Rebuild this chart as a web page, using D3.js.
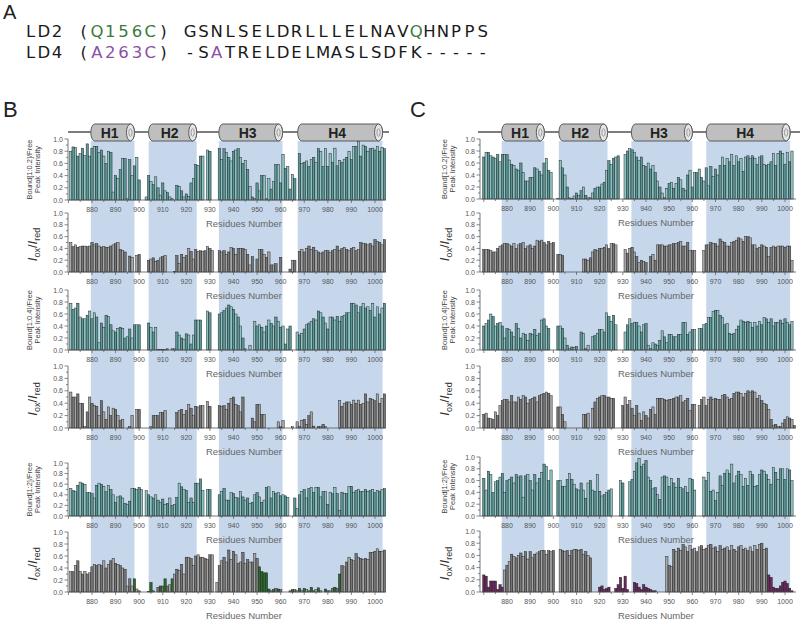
<!DOCTYPE html>
<html><head><meta charset="utf-8">
<script src="https://cdn.jsdelivr.net/npm/d3@7"></script>
<style>body{margin:0;background:#fff}svg{display:block;font-family:"Liberation Sans",Arial,sans-serif}</style>
</head><body>
<svg id="c" width="800" height="621"></svg>
<script>
// ---------------- DATA ----------------
const firstResidue = 870; // values below are residues 870..1004
const xTicks = [880,890,900,910,920,930,940,950,960,970,980,990,1000];
const yTicks = [0,0.2,0.4,0.6,0.8,1.0];
const helixNames = ['H1','H2','H3','H4'];
const helicesB = [[879.5,898],[904,924.4],[933.8,960.8],[967.2,1003.2]];
const helicesC = [[877.7,896.1],[902.4,923.4],[933.7,960],[966,1002.2]];
const seqRow1 = "LD2 (Q156C) GSNLSELDRLLLELNAVQHNPPS";
const seqRow2 = "LD4 (A263C) -SATRELDELMASLSDFK-----";
const seqGreen1 = [5,6,7,8,9,29];
const seqPurple2 = [5,6,7,8,9,14];

// Panel B
const bBound02 = [
null,0.80,0.87,0.86,0.72,0.76,0.85,0.73,0.92,0.72,
0.85,0.88,0.88,0.78,0.82,0.72,0.60,0.80,0.78,0.13,
0.40,0.35,0.50,0.68,0.68,0.02,0.66,0.40,0.56,0.70,
0.33,null,null,0.05,0.40,0.30,0.25,0.38,0.20,0.08,
0.28,0.15,0.12,0.05,0.02,null,0.24,0.22,0.15,0.05,
0.10,0.06,0.28,0.35,0.58,0.57,0.72,0.72,null,0.82,
0.80,null,null,null,0.85,0.66,0.84,0.78,0.70,0.64,
0.80,0.82,0.84,0.70,0.60,0.65,0.50,0.22,0.05,0.02,
0.28,0.15,0.40,0.40,0.02,0.35,0.18,0.30,0.58,0.58,
0.28,0.75,0.52,0.55,0.18,0.42,0.35,null,0.76,0.60,
0.62,0.64,0.55,0.66,0.70,0.62,0.84,0.80,0.55,0.84,
0.55,0.76,0.62,0.85,0.56,0.65,0.62,0.66,0.70,0.80,
0.66,0.88,0.88,0.96,0.72,0.90,0.88,0.80,0.84,0.85,
0.82,0.88,0.80,0.86,0.84];
const bOx1 = [
null,0.50,0.43,0.46,0.42,0.43,0.44,0.44,0.43,0.44,
0.50,0.46,0.48,0.44,0.42,0.43,0.42,0.42,0.44,0.46,
0.48,0.50,0.38,0.36,0.34,null,0.27,0.25,null,0.28,
0.30,null,null,null,0.20,0.22,0.24,0.18,0.20,0.24,
0.26,0.28,null,null,null,0.01,0.28,0.15,0.30,0.25,
0.28,0.40,0.35,0.22,0.38,0.35,0.36,0.35,0.36,0.43,
0.40,0.36,null,null,0.36,0.34,0.36,0.30,0.34,0.42,
0.40,0.30,0.40,0.40,0.40,0.38,0.30,0.12,0.26,null,
0.22,0.38,0.38,0.30,0.25,0.34,0.12,0.12,0.14,null,
0.25,null,null,null,0.05,0.20,0.20,null,0.35,0.38,
0.34,0.40,0.44,0.38,0.42,0.36,0.34,0.32,0.34,0.36,
0.36,0.33,0.36,0.38,0.44,0.36,0.40,0.42,0.38,0.36,
0.40,0.42,0.36,0.38,0.50,0.48,0.48,0.46,0.48,0.44,
0.55,0.52,0.50,0.46,0.55];
const bBound04 = [
null,0.78,0.68,0.70,0.78,0.55,0.52,0.52,0.58,0.65,
0.52,0.62,0.55,0.12,0.45,0.38,0.58,0.56,0.42,0.32,
0.30,0.36,0.38,0.36,0.20,0.22,0.35,0.20,0.42,0.42,
0.42,null,null,null,0.45,0.38,0.30,0.38,0.01,0.01,
0.01,0.01,0.02,null,0.02,0.02,0.30,0.25,0.20,0.18,
0.27,0.25,0.10,0.25,0.50,0.50,0.50,null,null,0.65,
0.62,null,null,null,0.60,0.62,0.66,0.70,0.75,0.72,
0.68,0.60,0.55,0.40,0.20,0.02,null,0.08,null,0.48,
0.40,0.42,0.38,0.30,0.40,0.50,0.44,0.40,0.55,0.48,
0.38,0.40,0.10,0.35,0.40,null,null,0.30,0.25,0.28,
0.35,0.42,0.45,0.48,0.52,0.50,0.65,0.62,0.55,0.45,
0.35,0.55,0.55,0.50,0.56,0.48,0.56,0.58,0.62,0.62,
0.78,0.78,0.75,0.62,0.72,0.78,0.70,0.72,0.66,0.78,
0.55,0.72,0.60,0.70,0.78];
const bOx2 = [
null,0.58,0.50,0.50,0.55,0.40,0.40,0.02,0.26,0.50,
0.40,0.36,0.35,0.20,0.44,0.26,0.14,0.34,0.20,0.32,
0.30,0.20,0.12,0.14,null,null,0.02,0.20,null,0.30,
0.30,null,null,null,null,0.02,0.20,0.20,0.20,0.25,
0.25,0.28,null,null,null,null,0.25,0.28,0.30,0.22,
0.28,0.38,0.32,0.20,0.35,0.34,0.36,0.36,null,0.43,
0.35,null,null,null,0.36,0.35,0.36,0.30,0.40,0.48,
0.50,0.38,0.36,0.26,0.50,null,null,null,0.16,0.10,
0.38,0.38,0.22,0.22,null,null,null,null,null,0.10,
0.02,0.12,null,null,null,0.02,null,0.10,0.02,0.12,
0.14,0.06,0.20,0.26,0.03,null,0.02,0.02,0.06,0.02,
null,null,null,null,null,0.44,0.35,0.40,0.42,0.42,
0.38,0.45,0.40,0.45,0.38,0.40,0.55,0.42,0.48,0.46,
0.44,0.55,0.40,0.48,0.55];
const bBound2 = [
null,0.52,0.48,0.46,0.58,0.64,0.62,0.60,0.44,0.44,
0.42,0.34,0.58,0.62,0.60,0.56,0.46,0.58,0.50,0.40,
0.26,0.36,0.38,0.34,0.24,0.22,0.28,0.52,0.52,0.50,
0.54,0.50,null,0.48,0.40,0.36,0.34,0.40,0.30,0.26,
0.32,0.22,0.24,0.34,0.20,0.22,0.35,0.62,0.55,0.50,
0.48,0.25,0.34,0.26,0.62,0.62,0.70,0.48,null,0.50,
0.50,null,null,null,0.40,0.46,0.52,0.30,0.30,0.44,
0.42,0.35,0.34,0.46,0.36,0.30,0.34,0.24,0.26,0.40,
0.44,0.36,0.26,0.30,0.54,0.55,0.34,0.46,0.42,0.44,
0.38,0.40,0.38,0.35,null,null,0.34,0.14,0.40,0.46,
0.50,0.34,0.52,0.54,0.44,0.54,0.54,0.36,0.46,0.46,
0.22,0.45,0.42,0.54,0.42,0.10,0.45,0.42,0.42,0.56,
0.56,0.44,0.48,0.50,0.46,0.46,0.50,0.46,0.48,0.50,
0.44,0.48,0.46,0.50,0.52];
const bOx3 = [
null,0.34,0.34,0.44,0.52,0.34,0.30,0.34,0.30,0.32,
0.42,0.46,0.44,0.46,0.44,0.52,0.40,0.46,0.52,0.56,
0.48,0.46,0.44,0.40,0.38,0.10,0.22,0.10,0.22,0.05,
0.02,null,null,null,0.01,0.16,0.02,null,0.08,0.10,
0.10,0.22,0.10,0.12,0.22,0.30,0.38,0.36,0.46,0.30,
0.58,0.58,0.56,0.44,0.60,0.62,0.58,0.58,0.56,0.54,
0.62,0.62,null,0.16,0.44,0.52,0.58,0.50,0.70,0.54,
0.68,0.62,0.48,0.50,0.66,0.48,0.54,0.50,0.50,0.64,
0.56,0.42,0.34,0.32,0.32,0.05,0.02,0.04,0.06,0.05,
0.04,null,null,null,0.02,0.04,0.04,0.02,0.06,0.02,
0.06,0.04,0.02,0.08,0.02,0.04,0.07,0.02,null,0.05,
0.02,0.02,0.06,0.08,0.06,0.30,0.44,0.42,0.50,0.58,
0.54,0.52,0.64,0.58,0.56,0.54,0.56,0.54,0.66,0.66,
0.68,0.72,0.68,0.68,0.70];
const greenB = [898,905,909,911,914,951,952,953,954,955,957,959,965,968,970,973,976,979,983,985];

// Panel C
const cBound02 = [
0.70,0.78,0.78,0.72,0.70,0.68,0.74,0.62,0.74,0.74,
0.74,0.65,0.58,0.56,0.50,0.48,0.60,0.44,0.30,0.30,
0.36,0.36,0.52,0.50,0.46,0.40,0.60,0.68,0.48,0.44,
null,null,0.01,0.64,0.52,0.40,0.20,0.02,0.01,0.05,
0.10,0.06,0.14,0.20,0.06,0.02,0.02,0.10,0.18,0.20,
0.20,0.25,0.28,0.48,0.64,0.58,0.68,0.70,0.72,null,
null,0.74,0.80,0.84,0.82,0.78,0.70,0.64,0.70,0.56,
0.54,0.60,0.50,0.56,0.44,0.30,0.20,0.10,0.02,0.18,
0.26,0.28,0.18,0.26,0.36,0.32,0.18,0.14,0.40,0.48,
0.20,0.44,0.44,0.50,0.36,0.30,0.52,0.22,0.54,0.38,
0.50,0.40,0.56,0.70,0.56,0.68,0.62,0.74,0.56,0.72,
0.62,0.68,0.46,0.70,0.72,0.68,0.72,0.68,0.58,0.70,
0.72,0.58,0.56,0.58,0.62,0.76,0.56,0.76,0.80,0.76,
0.58,0.78,0.62,0.80,null];
const cOx1 = [
0.38,0.38,0.38,0.36,0.34,0.34,0.40,0.44,0.46,0.48,
0.48,0.46,0.44,0.48,0.40,0.46,0.48,0.50,0.40,0.44,
0.46,0.40,0.44,0.54,0.52,0.54,0.50,0.46,0.52,0.48,
0.50,null,0.30,0.30,0.28,null,null,null,null,null,
null,null,null,0.22,0.22,0.20,0.24,0.34,0.38,0.36,
0.40,0.40,0.42,0.46,0.40,0.48,0.48,0.46,null,null,
null,0.38,0.32,0.40,0.42,0.34,0.26,0.16,0.20,0.18,
0.16,null,0.26,0.30,0.20,0.46,0.46,0.46,0.44,0.44,
0.46,0.46,0.48,0.48,0.50,0.52,0.44,0.44,0.50,0.36,
0.36,0.36,null,null,null,0.36,0.46,0.46,0.50,0.48,
0.48,0.44,0.56,0.52,0.50,0.44,0.44,0.50,0.52,0.54,
0.58,0.56,0.52,0.60,0.60,0.58,0.46,0.46,0.40,0.42,
0.46,0.44,0.42,0.26,0.42,0.44,0.42,0.44,0.44,0.44,
0.42,0.44,0.44,0.20,null];
const cBound04 = [
0.40,0.44,0.50,0.60,0.56,0.40,0.44,0.46,0.40,0.20,
0.36,0.34,0.30,0.22,0.44,0.36,0.20,0.28,0.26,0.16,
0.28,0.26,0.34,0.24,0.28,0.50,0.52,0.40,0.36,null,
null,null,0.40,0.40,0.36,0.20,0.08,0.02,0.05,0.04,
0.06,null,0.30,0.28,0.02,0.08,null,0.22,0.24,0.28,
0.34,0.34,0.30,0.62,0.56,0.48,0.58,0.42,null,null,
null,0.30,0.42,0.52,0.44,0.46,0.46,0.40,0.30,0.42,
0.44,0.08,0.02,0.12,0.10,0.08,0.16,0.32,0.22,0.12,
0.26,0.26,0.22,0.22,0.26,0.26,0.46,0.46,0.26,0.30,
0.34,0.34,null,0.36,0.36,0.42,0.44,0.54,0.54,0.64,
0.66,0.66,0.58,0.54,0.42,0.44,0.28,0.26,0.28,0.34,
0.40,0.50,0.48,0.46,0.48,0.46,0.38,0.46,0.40,0.48,
0.42,0.54,0.52,0.46,0.52,0.40,0.46,0.46,0.50,0.44,
0.52,0.46,0.42,0.48,null];
const cOx2 = [
0.22,0.24,0.16,0.15,0.14,0.26,0.20,0.36,0.44,0.46,
0.46,0.42,0.52,0.42,0.42,0.50,0.46,0.52,0.50,0.40,
0.46,0.48,0.50,0.42,0.52,0.54,0.56,0.58,0.56,0.52,
null,null,0.34,0.34,0.22,0.10,null,null,null,null,
null,null,null,0.22,0.22,0.24,null,0.32,0.42,0.48,
0.50,0.52,0.52,0.50,0.50,0.48,0.48,null,null,null,
0.36,0.50,0.38,0.44,0.32,0.20,0.36,0.24,0.12,0.26,
0.20,0.16,0.30,0.34,0.22,0.48,0.48,0.48,0.46,0.44,
0.46,0.46,0.48,0.50,0.50,0.52,0.42,0.44,0.48,0.28,
0.38,0.38,null,0.36,0.46,0.50,0.36,0.46,0.50,0.46,
0.48,0.46,0.46,0.52,0.54,0.50,0.46,0.48,0.56,0.58,
0.58,0.56,0.50,0.56,0.60,0.58,0.60,0.58,0.48,0.52,
0.44,0.40,0.38,0.30,0.14,0.04,0.06,0.02,0.02,0.08,
0.14,0.18,0.16,0.14,0.04];
const cBound2 = [
0.64,0.44,0.76,0.70,0.40,0.58,0.60,0.66,0.72,0.40,
0.60,0.62,0.66,0.56,0.70,0.66,0.68,0.32,0.68,0.70,
0.60,0.44,0.70,0.56,0.64,0.74,0.88,0.84,0.60,0.78,
null,null,0.60,0.60,0.50,0.50,0.62,0.72,0.62,0.54,
0.46,0.44,0.56,0.44,0.30,0.56,0.60,0.44,0.42,0.70,
0.42,0.34,0.36,0.40,0.44,0.46,null,null,null,0.60,
0.56,null,null,0.58,0.62,0.76,0.90,0.98,0.84,0.88,
0.94,0.66,0.60,0.46,0.48,0.36,0.28,0.66,0.68,0.66,
0.50,0.64,0.56,0.48,0.64,0.48,0.46,0.50,0.40,0.64,
0.62,0.44,null,null,null,0.66,0.60,0.74,0.42,0.44,
0.26,0.40,0.68,0.52,0.72,0.78,0.72,0.88,0.56,0.68,
0.76,0.70,0.50,0.64,0.52,0.76,0.70,0.50,0.52,0.70,
0.78,0.76,0.70,0.62,0.54,0.82,0.74,0.62,0.80,0.80,
0.62,0.80,0.78,0.60,null];
const cOx3 = [
0.28,0.26,0.08,0.18,0.18,0.18,0.04,0.12,0.08,0.36,
0.44,0.50,0.62,0.58,0.56,0.60,0.64,0.58,0.66,0.54,
0.66,0.56,0.62,0.64,0.66,0.68,0.68,0.62,0.68,0.66,
0.68,null,null,0.70,0.68,0.66,0.68,0.60,0.68,0.70,
0.70,0.68,0.70,0.62,0.66,0.60,0.56,null,null,null,
0.08,0.10,0.04,0.06,0.08,null,null,0.06,0.12,0.24,
0.06,0.26,0.04,null,null,0.16,0.14,0.08,0.04,0.12,
0.08,0.06,0.04,0.02,0.02,null,null,null,null,0.58,
0.44,0.42,0.70,0.66,0.72,0.68,0.78,0.74,0.66,0.76,
0.70,0.72,0.66,0.74,0.76,0.70,0.72,0.76,0.78,0.72,
0.74,0.66,0.76,0.70,0.72,0.74,0.68,0.76,0.70,0.66,
0.74,0.76,0.70,0.72,0.68,0.74,0.66,0.76,0.70,0.78,
0.80,0.70,0.72,0.28,0.24,0.08,0.06,0.06,0.10,0.16,
0.18,0.14,0.06,0.02,null];
const purpleC = [870,871,872,873,874,875,876,877,878,
  920,921,922,923,924,927,928,929,930,931,932,935,936,937,938,939,940,941,942,943,944,
  993,994,995,996,997,998,999,1000,1001,1002,1003];

// ---------------- DRAW ----------------
const svg = d3.select('#c');
const residues = d3.range(firstResidue, firstResidue + 135);

// Panel A
svg.append('text').attr('x',3).attr('y',19).attr('font-size',20).attr('fill','#222').text('A');
function seqRow(str, yb, colorIdx, color) {
  const g = svg.append('g');
  str.split('').forEach((ch,i) => {
    g.append('text').attr('x', 30.5 + i*13.3).attr('y', yb)
      .attr('text-anchor','middle')
      .attr('font-family','"DejaVu Sans",Verdana,sans-serif')
      .attr('font-size',16.5)
      .attr('fill', colorIdx.includes(i) ? color : '#1a1a1a')
      .text(ch);
  });
}
seqRow(seqRow1, 37, seqGreen1, '#3c7a3c');
seqRow(seqRow2, 58, seqPurple2, '#8e4fa8');

svg.append('text').attr('x',3).attr('y',117).attr('font-size',22).attr('fill','#222').text('B');
svg.append('text').attr('x',410).attr('y',117).attr('font-size',22).attr('fill','#222').text('C');

function drawColumn(cfg) {
  const x = d3.scaleLinear().domain([880,1000]).range(cfg.xr);
  const bw = x(881) - x(880);
  const g = svg.append('g');
  // helix shading
  cfg.helices.forEach(h => {
    g.append('rect').attr('x', x(h[0])).attr('y', 141).attr('width', x(h[1]) - x(h[0]))
      .attr('height', 592 - 141).attr('fill', '#c6d7ec');
  });
  // cylinder line
  g.append('line').attr('x1', cfg.lineX[0]).attr('x2', cfg.lineX[1])
    .attr('y1', 132).attr('y2', 132).attr('stroke', '#7d7d7d').attr('stroke-width', 2);
  cfg.helices.forEach((h, i) => {
    const xa = x(h[0]), xb = x(h[1]), top = 124, bot = 141, ry = (bot - top) / 2;
    g.append('rect').attr('x', xa).attr('y', top).attr('width', xb - xa).attr('height', bot - top)
      .attr('rx', 4).attr('ry', ry).attr('fill', '#bfbfbf').attr('stroke', '#5a5a5a').attr('stroke-width', 1);
    g.append('ellipse').attr('cx', xb - 4).attr('cy', top + ry).attr('rx', 4).attr('ry', ry)
      .attr('fill', '#e6e6e6').attr('stroke', '#5a5a5a').attr('stroke-width', 1);
    g.append('ellipse').attr('cx', xb - 4).attr('cy', top + ry).attr('rx', 1.6).attr('ry', ry * 0.45)
      .attr('fill', 'none').attr('stroke', '#888').attr('stroke-width', 0.8);
    g.append('text').attr('x', (xa + xb) / 2 - 3).attr('y', top + ry + 5)
      .attr('text-anchor', 'middle').attr('font-size', 14).attr('font-weight', 'bold')
      .attr('fill', '#222').text(helixNames[i]);
  });

  cfg.panels.forEach(p => {
    const y = d3.scaleLinear().domain([0, 1]).range([p.y0, p.y1]);
    const pg = g.append('g');
    // bars
    p.vals.forEach((v, i) => {
      if (v == null || v <= 0) return;
      const r = residues[i];
      let fill;
      if (p.kind === 'teal') fill = (i % 2 ? '#8cc3c3' : '#5b9797');
      else fill = (i % 2 ? '#a6a6a6' : '#767676');
      if (p.hl && p.hl.includes(r)) fill = p.hlColor;
      pg.append('rect').attr('x', x(r) - bw / 2).attr('y', y(v))
        .attr('width', bw).attr('height', p.y0 - y(v))
        .attr('fill', fill).attr('stroke', '#1c1c1c').attr('stroke-width', 0.45);
    });
    // x axis
    pg.append('line').attr('x1', cfg.ax[0]).attr('x2', cfg.ax[1]).attr('y1', p.y0).attr('y2', p.y0)
      .attr('stroke', '#555').attr('stroke-width', 0.8);
    d3.range(870, 1005, 5).forEach(t => {
      const major = t % 10 === 0;
      pg.append('line').attr('x1', x(t)).attr('x2', x(t)).attr('y1', p.y0).attr('y2', p.y0 + (major ? 3 : 2))
        .attr('stroke', '#555').attr('stroke-width', 0.7);
    });
    xTicks.forEach(t => {
      pg.append('text').attr('x', x(t)).attr('y', p.y0 + 12).attr('text-anchor', 'middle')
        .attr('font-size', 7).attr('fill', '#555').text(t);
    });
    pg.append('text').attr('x', cfg.rnX).attr('y', p.y0 + 27).attr('text-anchor', 'middle')
      .attr('font-size', 9.5).attr('fill', '#666').text('Residues Number');
    // y axis
    pg.append('line').attr('x1', cfg.ax[0]).attr('x2', cfg.ax[0]).attr('y1', p.y0).attr('y2', p.y1)
      .attr('stroke', '#555').attr('stroke-width', 0.8);
    d3.range(0, 11).forEach(k => {
      const t = k / 10;
      pg.append('line').attr('x1', cfg.ax[0] - (k % 2 === 0 ? 3.5 : 2)).attr('x2', cfg.ax[0])
        .attr('y1', y(t)).attr('y2', y(t)).attr('stroke', '#555').attr('stroke-width', 0.7);
    });
    yTicks.forEach(t => {
      pg.append('text').attr('x', cfg.ax[0] - 5).attr('y', y(t) + 2.5).attr('text-anchor', 'end')
        .attr('font-size', 7).attr('fill', '#555').text(t.toFixed(1));
    });
    // y label
    const my = (p.y0 + p.y1) / 2;
    if (p.kind === 'teal') {
      pg.append('text').attr('transform', `translate(${cfg.lab2[0]},${my}) rotate(-90)`)
        .attr('text-anchor', 'middle').attr('font-size', 7.5).attr('fill', '#444').text(p.label[0]);
      pg.append('text').attr('transform', `translate(${cfg.lab2[1]},${my}) rotate(-90)`)
        .attr('text-anchor', 'middle').attr('font-size', 7.5).attr('fill', '#444').text(p.label[1]);
    } else {
      const t = pg.append('text').attr('transform', `translate(${cfg.labI},${my + 2}) rotate(-90)`)
        .attr('text-anchor', 'middle').attr('font-size', 13).attr('fill', '#333');
      t.append('tspan').attr('font-style', 'italic').text('I');
      t.append('tspan').attr('font-size', 9).attr('dy', 3).text('ox');
      t.append('tspan').attr('dy', -3).text('/');
      t.append('tspan').attr('font-style', 'italic').text('I');
      t.append('tspan').attr('font-size', 9).attr('dy', 3).text('red');
    }
  });
}

drawColumn({
  xr: [92, 375], ax: [68, 386], lineX: [68, 389], rnX: 244,
  lab2: [32, 40], labI: 37, helices: helicesB,
  panels: [
    {vals: bBound02, kind: 'teal', label: ['Bound[1:0.2]/Free', 'Peak Intensity'], y0: 200, y1: 139},
    {vals: bOx1, kind: 'gray', y0: 272, y1: 213},
    {vals: bBound04, kind: 'teal', label: ['Bound[1:0.4]/Free', 'Peak Intensity'], y0: 350, y1: 290},
    {vals: bOx2, kind: 'gray', y0: 428, y1: 366},
    {vals: bBound2, kind: 'teal', label: ['Bound[1:2]/Free', 'Peak Intensity'], y0: 516, y1: 463},
    {vals: bOx3, kind: 'gray', y0: 592, y1: 532, hl: greenB, hlColor: '#2b6a2b'}
  ]
});
drawColumn({
  xr: [507, 785], ax: [480, 796], lineX: [478, 800], rnX: 656,
  lab2: [447, 455], labI: 449, helices: helicesC,
  panels: [
    {vals: cBound02, kind: 'teal', label: ['Bound[1:0.2]/Free', 'Peak Intensity'], y0: 199, y1: 139},
    {vals: cOx1, kind: 'gray', y0: 272, y1: 213},
    {vals: cBound04, kind: 'teal', label: ['Bound[1:0.4]/Free', 'Peak Intensity'], y0: 350, y1: 290},
    {vals: cOx2, kind: 'gray', y0: 428, y1: 366},
    {vals: cBound2, kind: 'teal', label: ['Bound[1:2]/Free', 'Peak Intensity'], y0: 516, y1: 457},
    {vals: cOx3, kind: 'gray', y0: 592, y1: 531, hl: purpleC, hlColor: '#6a2a5c'}
  ]
});
</script>
</body></html>
